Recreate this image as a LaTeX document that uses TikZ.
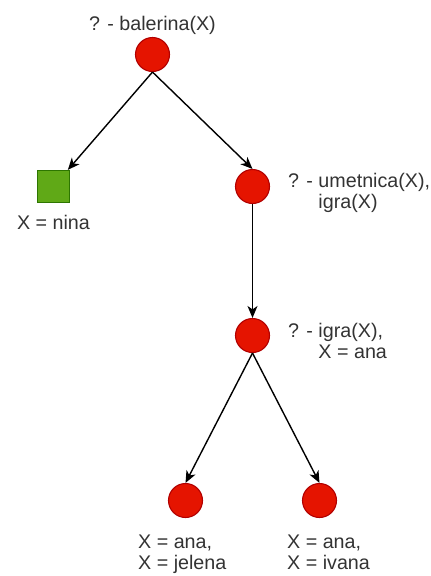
\documentclass[tikz,border=0pt]{standalone}
\usepackage{fontspec}
\setmainfont{Liberation Sans}
\usetikzlibrary{arrows.meta}
\definecolor{redfill}{HTML}{E51400}
\definecolor{redline}{HTML}{B20000}
\definecolor{greenfill}{HTML}{60A917}
\definecolor{greenline}{HTML}{2D7600}
\definecolor{txt}{HTML}{333333}
\tikzset{
  goal/.style={circle, fill=redfill, draw=redline, line width=1.1pt, minimum size=34pt, inner sep=0pt},
  success/.style={rectangle, fill=greenfill, draw=greenline, line width=1.1pt, minimum size=32pt, inner sep=0pt},
  lbl/.style={text=txt, inner sep=0pt, align=left, font=\fontsize{19.7}{21}\selectfont},
  edge/.style={draw=black, line width=1.4pt, -{Stealth[length=12pt,width=10pt,inset=3.5pt]}}
}
\begin{document}
\begin{tikzpicture}[x=1pt,y=-1pt]
\useasboundingbox (0,0) rectangle (431,576);
\node[goal] (n0) at (152.5,54.5) {};
\node[success] (s1) at (53.5,186.5) {};
\node[goal] (n2) at (252.5,186.5) {};
\node[goal] (n3) at (252.5,335.5) {};
\node[goal] (n4) at (185.5,500.5) {};
\node[goal] (n5) at (319.5,500.5) {};

\node[lbl, anchor=base] (l0) at (152.5,30) {? - balerina(X)};
\node[lbl, anchor=base] (l1) at (53.5,229) {X = nina};
\node[lbl, anchor=base west] (l2) at (288,208.5) {? - umetnica(X),\\\phantom{? - }igra(X)};
\node[lbl, anchor=base west] (l3) at (288,358) {? - igra(X),\\\phantom{? - }X = ana};
\node[lbl, anchor=base west] (l4) at (138,569) {X = ana,\\X = jelena};
\node[lbl, anchor=base west] (l5) at (287,569) {X = ana,\\X = ivana};

\draw[edge] (n0.south) -- (s1);
\draw[edge] (n0.south) -- (n2.north);
\draw[edge] (n2.south) -- (n3.north);
\draw[edge] (n3.south) -- (n4.north);
\draw[edge] (n3.south) -- (n5.north);
\end{tikzpicture}
\end{document}
